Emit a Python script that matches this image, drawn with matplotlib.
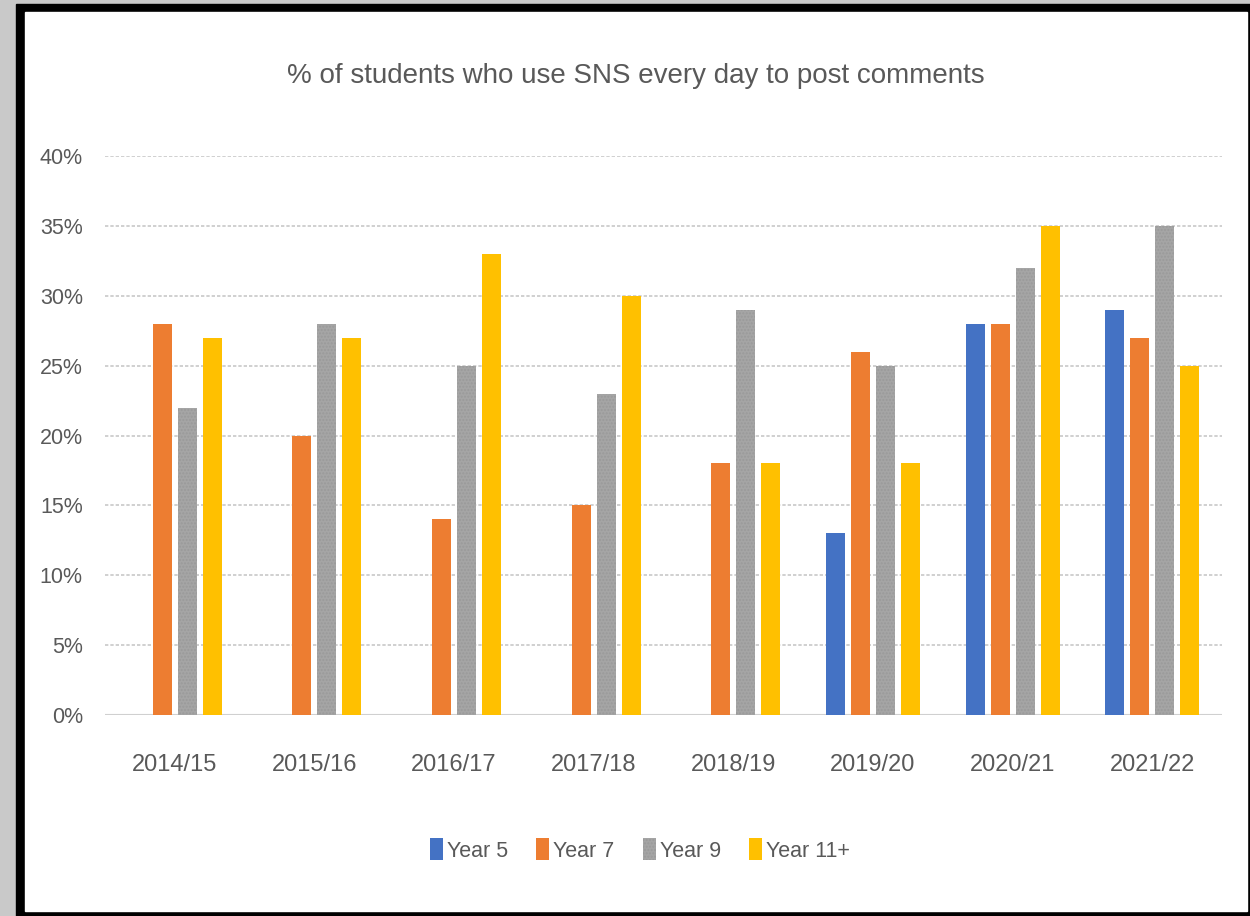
import matplotlib.pyplot as plt
import matplotlib.patches as mpatches
import numpy as np

# survey years and share of students posting comments on SNS daily
years = ['2014/15', '2015/16', '2016/17', '2017/18',
         '2018/19', '2019/20', '2020/21', '2021/22']
series = ['Year 5', 'Year 7', 'Year 9', 'Year 11+']
year5 = [0, 0, 0, 0, 0, 0.13, 0.28, 0.29]
year7 = [0.28, 0.20, 0.14, 0.15, 0.18, 0.26, 0.28, 0.27]
year9 = [0.22, 0.28, 0.25, 0.23, 0.29, 0.25, 0.32, 0.35]
year11 = [0.27, 0.27, 0.33, 0.30, 0.18, 0.18, 0.35, 0.25]
yticks = [0, 0.05, 0.10, 0.15, 0.20, 0.25, 0.30, 0.35, 0.40]

colors = ['#4472C4', '#ED7D31', '#A5A5A5', '#FFC000']
txt = '#595959'
plt.rcParams['font.family'] = ['Liberation Sans', 'DejaVu Sans']
plt.rcParams['hatch.color'] = '#9A9A9A'

fig = plt.figure(figsize=(12.5, 9.16), dpi=100)
W, H = 1250, 916

# frame around the chart area
fig.patches.append(mpatches.Rectangle((0, 0), 1, 1, transform=fig.transFigure,
                                      color='#C9C9C9', zorder=-3))
fig.patches.append(mpatches.Rectangle((16 / W, 0), 1 - 16 / W, 1 - 4 / H,
                                      transform=fig.transFigure, color='black', zorder=-2))
fig.patches.append(mpatches.Rectangle((25 / W, 5 / H), 1 - 28 / W, 1 - 17 / H,
                                      transform=fig.transFigure, color='white', zorder=-1))

ax = fig.add_axes([105 / W, 1 - 715 / H, 1117 / W, (715 - 156) / H])
ax.set_facecolor('none')

x = np.arange(len(years))
step = 0.179
bw = 0.136
for i, (vals, c) in enumerate(zip([year5, year7, year9, year11], colors)):
    off = (i - 1.5) * step
    hatch = '.....' if i == 2 else None
    ax.bar(x + off, vals, bw, color=c, label=series[i], zorder=3,
           hatch=hatch, edgecolor='#9A9A9A' if i == 2 else c, linewidth=0)

ax.set_xlim(-0.5, len(years) - 0.5)
ax.set_ylim(0, 0.40)
ax.set_yticks(yticks)
ax.set_yticklabels([f'{int(round(v * 100))}%' for v in yticks])
ax.set_xticks(x)
ax.set_xticklabels(years)
ax.tick_params(axis='both', length=0, colors=txt)
ax.tick_params(axis='x', pad=28, labelsize=17)
ax.tick_params(axis='y', pad=16, labelsize=15.5)
for s in ax.spines.values():
    s.set_visible(False)
ax.yaxis.grid(True, color='#C8C8C8', linestyle=(0, (2, 1.2)), linewidth=1.2, zorder=0)
ax.axhline(0, color='#D0D0D0', linewidth=1.5, zorder=2)

fig.text(636 / W, 1 - 76 / H, '% of students who use SNS every day to post comments',
         ha='center', va='center', fontsize=20, color=txt)

ax.legend(loc='center', bbox_to_anchor=(640 / W, 1 - 850 / H),
          bbox_transform=fig.transFigure, ncol=4, frameon=False, fontsize=15.5,
          labelcolor=txt, handlelength=0.6, handleheight=1.2, handletextpad=0.2,
          columnspacing=1.3)

fig.savefig('out.png', dpi=100)
